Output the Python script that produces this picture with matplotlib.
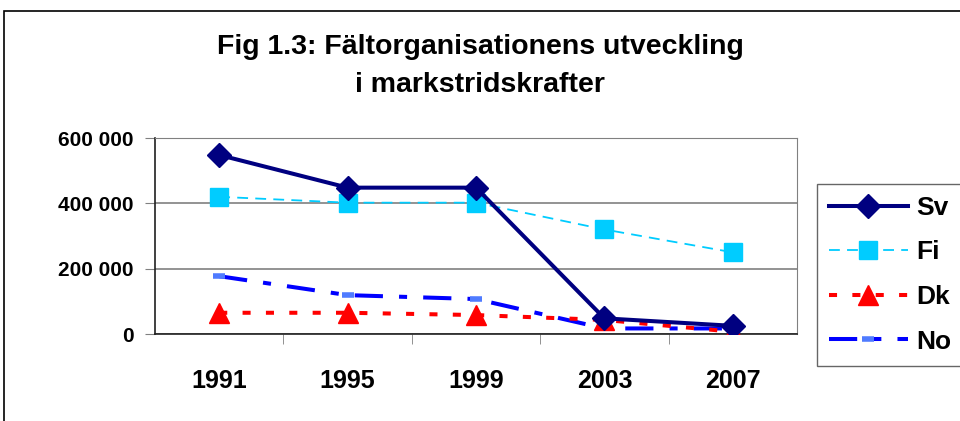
import matplotlib
matplotlib.use('Agg')
import matplotlib.pyplot as plt
from matplotlib.patches import Rectangle

# Data
years = ['1991', '1995', '1999', '2003', '2007']
sv = [548000, 448000, 448000, 48000, 25000]
fi = [420000, 402000, 402000, 320000, 250000]
dk = [65000, 65000, 58000, 43000, 7000]
no = [177000, 119000, 107000, 17000, 17000]
yticks = [0, 200000, 400000, 600000]
ytick_labels = ['0', '200 000', '400 000', '600 000']

plt.rcParams['font.family'] = ['Liberation Sans', 'DejaVu Sans']
plt.rcParams['font.weight'] = 'bold'

fig = plt.figure(figsize=(9.6, 4.21), dpi=100)
ax = fig.add_axes([155/960, 1 - 334/421, 642/960, 196/421])

x = range(len(years))
ax.plot(x, sv, color='#000080', lw=2.9, marker='D', ms=12, label='Sv', zorder=5)
ax.plot(x, fi, color='#00CCFF', lw=1.3, ls=(0, (6, 4)), marker='s', ms=13.5, label='Fi', zorder=4)
ax.plot(x, dk, color='#FF0000', lw=2.9, ls=(0, (2, 3.8)), marker='^', ms=15, label='Dk', zorder=3)
ax.plot(x, no, color='#0000FF', lw=2.9, ls=(0, (7, 4, 2, 4)), marker='_', ms=9, mew=4,
        mec='#4F7BFF', label='No', zorder=2)

ax.set_xlim(-0.5, 4.5)
ax.set_ylim(0, 600000)
ax.set_yticks(yticks)
ax.set_yticklabels(ytick_labels)
ax.set_xticks(list(x))
ax.set_xticklabels(years)
ax.set_xticks([0.5, 1.5, 2.5, 3.5], minor=True)
ax.tick_params(axis='x', which='major', length=0, pad=25, labelsize=18)
ax.tick_params(axis='x', which='minor', length=7, direction='out', color='#808080')
ax.tick_params(axis='y', length=7, direction='out', labelsize=15, pad=8.5, color='#808080')
ax.grid(axis='y', color='#808080', lw=1.2)
ax.set_axisbelow(True)
for s in ['top', 'right']:
    ax.spines[s].set_color('#808080')
for s in ['left', 'bottom']:
    ax.spines[s].set_color('#202020')
    ax.spines[s].set_linewidth(1.2)

fig.text(0.5, 1 - 47/421, 'Fig 1.3: Fältorganisationens utveckling', ha='center', va='center',
         fontsize=20.5, fontweight='bold')
fig.text(0.5, 1 - 85/421, 'i markstridskrafter', ha='center', va='center',
         fontsize=20.5, fontweight='bold')

leg = ax.legend(loc='upper left', bbox_to_anchor=(817/960, 1 - 184/421), bbox_transform=fig.transFigure,
                frameon=True, fancybox=False, edgecolor='#404040', prop={'size': 19, 'weight': 'bold'},
                handlelength=3.0, labelspacing=0.78, borderpad=0.45, handletextpad=0.3,
                borderaxespad=0)
leg.get_frame().set_linewidth(1.0)

# outer chart frame
fig.patches.append(Rectangle((4/960, -0.1), 1.1, 1 - 11/421 + 0.1, transform=fig.transFigure,
                             fill=False, edgecolor='black', lw=1.2))

fig.savefig('out.png', dpi=100)
